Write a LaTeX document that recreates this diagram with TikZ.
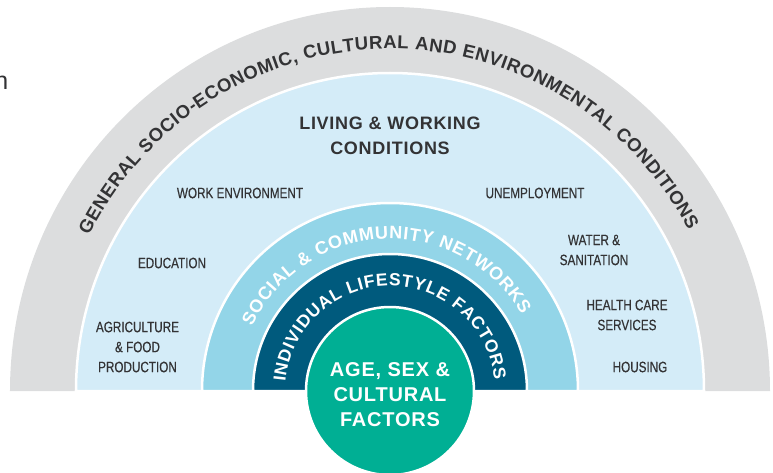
\documentclass[tikz,border=0pt]{standalone}
\usepackage{fontspec}
\setmainfont{Liberation Sans}
\newfontfamily\condfont[FakeStretch=0.78, FakeBold=0.4]{Liberation Sans}
\newfontfamily\headfont[LetterSpace=4]{Liberation Sans}
\usetikzlibrary{decorations.text}

\definecolor{bandgray}{HTML}{DCDDDE}
\definecolor{bandlight}{HTML}{D4ECF8}
\definecolor{bandmid}{HTML}{93D5E8}
\definecolor{banddark}{HTML}{005A7D}
\definecolor{agegreen}{HTML}{00AF94}
\definecolor{inkgray}{HTML}{333335}

\begin{document}
\begin{tikzpicture}[x=1pt, y=1pt]
    \tikzstyle{band}=[draw=white, line width=2.5pt];
    \tikzstyle{factor}=[font=\condfont\fontsize{15}{20}\selectfont, text=inkgray, align=center, inner sep=0pt];
    \tikzstyle{heading}=[font=\headfont\bfseries\fontsize{18}{25}\selectfont, text=inkgray, align=center, inner sep=0pt];
    \tikzstyle{core}=[font=\headfont\bfseries\fontsize{20}{25}\selectfont, text=white, align=center, inner sep=0pt];

    \clip (-390,-81) rectangle (383,391);
    \useasboundingbox (-390,-81) rectangle (383,391);

    % half rings, outside in
    \fill[bandgray] (-380,0) arc[start angle=180, end angle=0, x radius=380, y radius=384] -- cycle;
    \filldraw[band, fill=bandlight] (-314,0) arc[start angle=180, end angle=0, x radius=314, y radius=318] -- cycle;
    \filldraw[band, fill=bandmid] (-188,0) arc[start angle=180, end angle=0, radius=188] -- cycle;
    \filldraw[band, fill=banddark] (-137,0) arc[start angle=180, end angle=0, radius=137] -- cycle;
    \filldraw[band, fill=agegreen] (0,0) circle[radius=84];

    % ring titles, spread over their arcs
    \path[decorate, decoration={text along path, text align={fit to path},
        text={|\color{inkgray}\bfseries\fontsize{18.5}{18.5}\selectfont|GENERAL SOCIO-ECONOMIC, CULTURAL AND ENVIRONMENTAL CONDITIONS}}]
        (153:338 and 342) arc[start angle=153, end angle=28, x radius=338, y radius=342];
    \path[decorate, decoration={text along path, text align={fit to path},
        text={|\color{white}\bfseries\fontsize{18}{18}\selectfont|SOCIAL {\&} COMMUNITY NETWORKS}}]
        (155:152) arc[start angle=155, end angle=30, radius=152];
    \path[decorate, decoration={text along path, text align={fit to path},
        text={|\color{white}\bfseries\fontsize{17.5}{17.5}\selectfont|INDIVIDUAL LIFESTYLE FACTORS}}]
        (175:105) arc[start angle=175, end angle=6, radius=105];

    \node[heading] (living) at (0,255.5) {LIVING \& WORKING\\CONDITIONS};
    \node[core] (age) at (0,-4) {AGE, SEX \&\\CULTURAL\\FACTORS};

    % living and working conditions
    \node[factor] (work) at (-150,198) {WORK ENVIRONMENT};
    \node[factor] (education) at (-218,128) {EDUCATION};
    \node[factor] (agriculture) at (-252.5,44) {AGRICULTURE\\\& FOOD\\PRODUCTION};
    \node[factor] (unemployment) at (145,198) {UNEMPLOYMENT};
    \node[factor] (water) at (204,141) {WATER \&\\SANITATION};
    \node[factor] (health) at (237,76) {HEALTH CARE\\SERVICES};
    \node[factor] (housing) at (250,24) {HOUSING};

    \node[anchor=base east, inner sep=0pt, text=inkgray, font=\fontsize{25}{25}\selectfont] (cut) at (-381.5,301) {n};
\end{tikzpicture}
\end{document}
